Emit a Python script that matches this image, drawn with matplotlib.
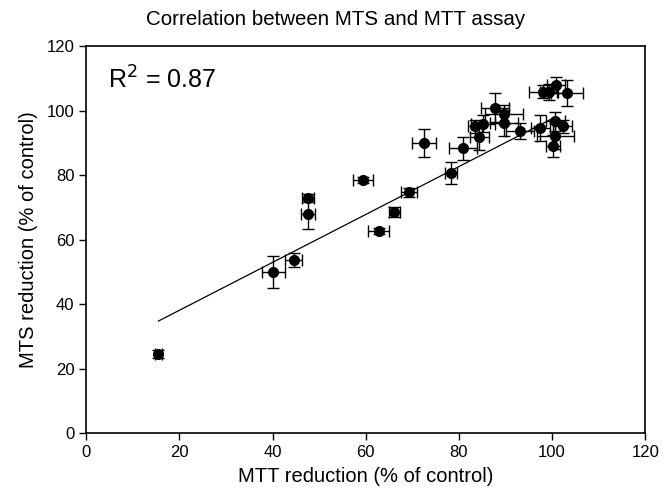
import numpy as np
import matplotlib
matplotlib.use('Agg')
import matplotlib.pyplot as plt

plt.rcParams['font.family'] = ['Liberation Sans', 'DejaVu Sans']

# MTT reduction (x) vs MTS reduction (y), % of control, with SD
mtt = [15.5, 40.2, 44.5, 47.7, 47.7, 59.4, 62.8, 66.1, 69.2, 72.5,
       78.3, 80.8, 83.5, 84.4, 85.2, 87.8, 89.7, 89.7, 93.2, 97.5,
       98.0, 99.3, 100.8, 103.2, 100.7, 102.3, 100.7, 100.2]
mts = [24.5, 50.0, 53.6, 72.8, 67.9, 78.4, 62.6, 68.6, 74.6, 90.0,
       80.7, 88.3, 95.2, 91.9, 96.0, 100.9, 98.8, 96.2, 93.7, 94.5,
       105.8, 105.8, 107.9, 105.5, 96.7, 95.2, 92.1, 89.0]
mtt_sd = [0.8, 2.4, 1.8, 1.3, 1.5, 2.2, 2.3, 1.2, 1.7, 2.6,
          1.2, 3.0, 1.5, 2.0, 2.5, 3.0, 4.0, 3.0, 3.0, 2.0,
          3.0, 2.0, 2.0, 3.5, 2.0, 2.0, 4.0, 1.5]
mts_sd = [1.2, 4.9, 2.2, 1.3, 4.5, 1.0, 1.0, 1.5, 1.5, 4.3,
          3.5, 3.5, 2.0, 4.0, 2.5, 4.5, 3.0, 4.0, 2.5, 4.0,
          2.0, 2.5, 2.5, 4.0, 3.0, 2.0, 4.0, 3.5]

# regression line as drawn in the original
fit_slope = 0.743
fit_intercept = 23.2
fit_range = [15.5, 100.7]
r2_text = "R$^2$ = 0.87"

fig = plt.figure(figsize=(6.68, 4.96), dpi=100)
ax = fig.add_axes([0.129, 0.127, 0.837, 0.780])

xl = np.array(fit_range)
ax.plot(xl, fit_slope * xl + fit_intercept, color='black', lw=0.9)
ax.errorbar(mtt, mts, xerr=mtt_sd, yerr=mts_sd, fmt='o', color='black',
            ms=7, ecolor='black', elinewidth=1, capsize=4, capthick=1)

ax.set_xlim(0, 120)
ax.set_ylim(0, 120)
ax.set_xticks(range(0, 121, 20))
ax.set_yticks(range(0, 121, 20))
ax.tick_params(direction='out', length=5, width=1, labelsize=12,
               top=False, right=False)
for s in ax.spines.values():
    s.set_linewidth(1.2)

ax.set_xlabel("MTT reduction (% of control)", fontsize=14.5, labelpad=5)
ax.set_ylabel("MTS reduction (% of control)", fontsize=14.5, labelpad=6)
fig.suptitle("Correlation between MTS and MTT assay", fontsize=14.8,
             x=0.503, y=0.98)
ax.text(0.039, 0.912, r2_text, transform=ax.transAxes, fontsize=18, va='center')

fig.savefig('out.png', dpi=100)
